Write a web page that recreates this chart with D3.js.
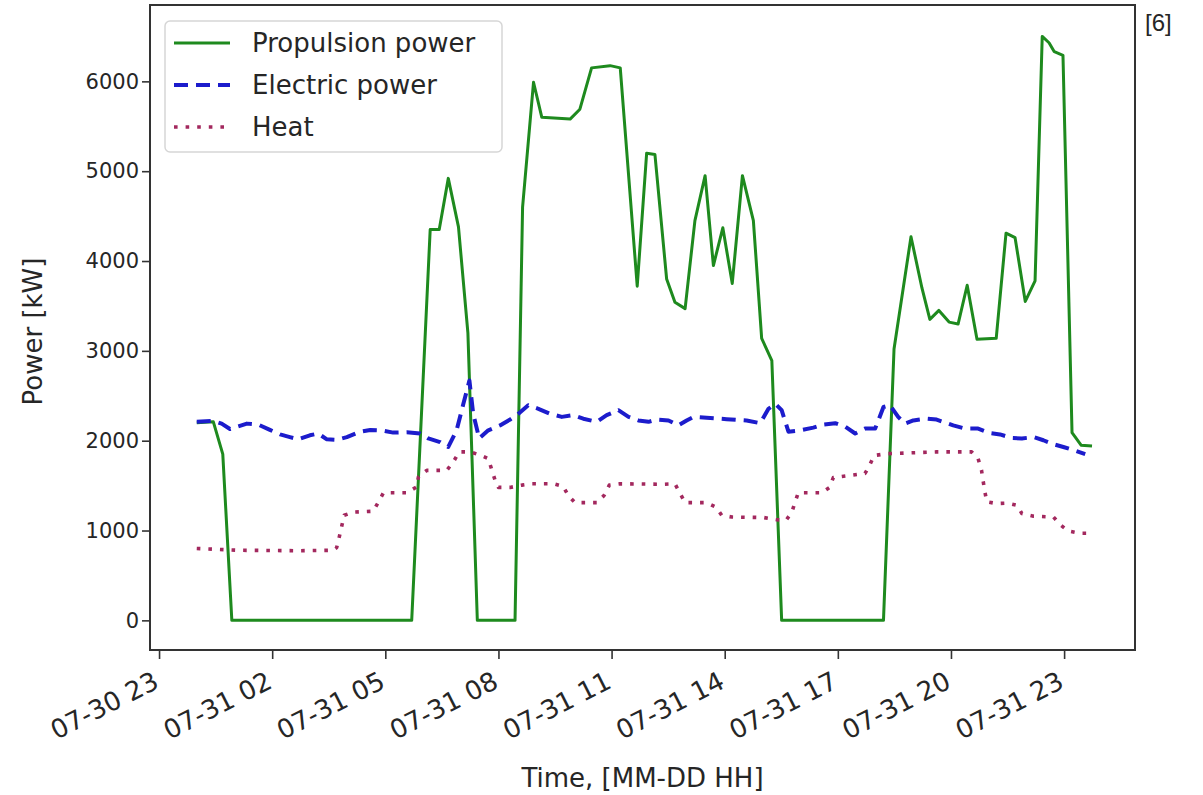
<!DOCTYPE html>
<html>
<head>
<meta charset="utf-8">
<script src="https://cdn.jsdelivr.net/npm/d3@7"></script>
<style>
  html, body { margin: 0; padding: 0; background: #fff; }
  svg text { font-family: "DejaVu Sans", sans-serif; fill: #262626; }
</style>
</head>
<body>
<div id="chart"></div>
<script>
// Power demand over one day.
// Times are hours after 07-31 00:00, values in kW.

const propulsionHours = [0.00, 0.44, 0.69, 0.93, 5.70, 6.19, 6.43, 6.67, 6.94, 7.19, 7.44,
  8.44, 8.64, 8.93, 9.15, 9.90, 10.16, 10.47, 10.96, 11.23, 11.68, 11.93, 12.15, 12.46,
  12.68, 12.95, 13.21, 13.48, 13.70, 13.95, 14.20, 14.47, 14.76, 14.98, 15.25, 15.51,
  18.21, 18.49, 18.94, 19.23, 19.44, 19.68, 19.95, 20.19, 20.43, 20.69, 21.20, 21.46,
  21.70, 21.97, 22.23, 22.42, 22.60, 22.74, 22.97, 23.21, 23.45, 23.74];
const propulsionKW = [2200, 2210, 1850, 0, 0, 4350, 4350, 4920, 4380, 3200, 0,
  0, 4600, 5990, 5600, 5580, 5690, 6150, 6175, 6150, 3720, 5200, 5185, 3800,
  3540, 3470, 4450, 4950, 3950, 4370, 3750, 4950, 4450, 3140, 2890, 0,
  0, 3020, 4270, 3700, 3350, 3450, 3320, 3300, 3730, 3130, 3140, 4310,
  4260, 3550, 3780, 6500, 6430, 6330, 6290, 2090, 1950, 1940];

const electricHours = [0.00, 0.44, 0.66, 0.88, 1.33, 1.63, 1.94, 2.21, 2.47, 2.69, 3.00,
  3.22, 3.45, 3.71, 3.98, 4.33, 4.60, 4.91, 5.21, 5.57, 5.92, 6.14, 6.45, 6.67, 6.89,
  7.07, 7.23, 7.33, 7.49, 7.73, 8.04, 8.31, 8.53, 8.79, 9.06, 9.37, 9.68, 9.99, 10.25,
  10.61, 10.87, 11.18, 11.45, 11.71, 11.98, 12.20, 12.51, 12.77, 12.99, 13.17, 13.52,
  14.05, 14.58, 14.94, 15.16, 15.34, 15.51, 15.69, 16.00, 16.35, 16.62, 16.93, 17.20,
  17.46, 17.72, 17.99, 18.21, 18.38, 18.60, 18.78, 19.00, 19.35, 19.62, 20.06, 20.37,
  20.72, 21.03, 21.30, 21.61, 21.88, 22.19, 22.45, 22.72, 22.98, 23.25, 23.56];
const electricKW = [2210, 2220, 2190, 2130, 2190, 2180, 2120, 2070, 2040, 2015, 2060,
  2080, 2015, 2010, 2040, 2100, 2120, 2115, 2090, 2095, 2080, 2025, 1985, 1930, 2115,
  2410, 2670, 2300, 2025, 2115, 2170, 2235, 2300, 2395, 2355, 2300, 2265, 2285, 2245,
  2210, 2285, 2340, 2265, 2225, 2210, 2235, 2225, 2170, 2225, 2265, 2255,
  2240, 2225, 2195, 2355, 2410, 2340, 2100, 2115, 2145, 2180, 2195, 2155,
  2080, 2135, 2135, 2375, 2395, 2265, 2190, 2225, 2245, 2235, 2170, 2135,
  2135, 2085, 2070, 2030, 2025, 2040, 2005, 1960, 1930, 1895, 1850];

const heatHours = [0.00, 1.15, 2.74, 3.61, 3.71, 3.78, 3.85, 3.91, 4.15, 4.68, 4.84, 4.95,
  5.57, 5.83, 5.88, 6.10, 6.63, 6.82, 6.96, 7.25, 7.51, 7.73, 7.82, 7.91, 8.00, 8.31,
  8.62, 8.88, 9.46, 9.72, 9.85, 10.03, 10.61, 10.80, 10.94, 11.22, 12.37, 12.68, 12.82,
  12.95, 13.52, 13.77, 13.92, 14.19, 15.03, 15.38, 15.63, 15.78, 15.87, 15.95, 16.57,
  16.78, 16.88, 17.72, 17.84, 17.96, 18.30, 19.62, 20.55, 20.72, 20.81, 20.85, 20.90,
  20.95, 21.21, 21.50, 21.75, 21.88, 22.19, 22.72, 22.91, 23.11, 23.42, 23.69];
const heatKW = [800, 780, 775, 780, 810, 930, 1060, 1170, 1205, 1215, 1335, 1420,
  1420, 1485, 1600, 1670, 1670, 1775, 1875, 1875, 1840, 1800, 1680, 1560, 1480, 1480,
  1505, 1520, 1520, 1490, 1390, 1310, 1310, 1390, 1505, 1520, 1515, 1520, 1410,
  1310, 1310, 1260, 1170, 1150, 1145, 1120, 1115, 1205, 1320, 1420, 1420,
  1480, 1590, 1635, 1725, 1835, 1855, 1875, 1875, 1800, 1670, 1560, 1430,
  1320, 1300, 1305, 1280, 1190, 1160, 1150, 1060, 995, 970, 970];

const yTicks = [0, 1000, 2000, 3000, 4000, 5000, 6000];
const xTickHours = [-1, 2, 5, 8, 11, 14, 17, 20, 23];
const xTickLabels = ["07-30 23", "07-31 02", "07-31 05", "07-31 08", "07-31 11",
  "07-31 14", "07-31 17", "07-31 20", "07-31 23"];

const seriesNames = ["Propulsion power", "Electric power", "Heat"];

// hours -> Date on 07-31
const base = new Date(2020, 6, 31, 0, 0, 0);
const toDate = h => new Date(base.getTime() + h * 3600 * 1000);

const W = 1203, H = 795;
const plot = { left: 150, top: 5, right: 1135, bottom: 650 };

const svg = d3.select("#chart").append("svg")
  .attr("width", W)
  .attr("height", H);

const x = d3.scaleTime()
  .domain([toDate(-1.24), toDate(24.88)])
  .range([plot.left, plot.right]);

const y = d3.scaleLinear()
  .domain([-330, 6850])
  .range([plot.bottom, plot.top]);

// series definitions with styles
const series = [
  { name: seriesNames[0], hours: propulsionHours, values: propulsionKW,
    color: "#1e8a1e", width: 3, dash: null },
  { name: seriesNames[1], hours: electricHours, values: electricKW,
    color: "#1c1ccc", width: 4, dash: "14,8" },
  { name: seriesNames[2], hours: heatHours, values: heatKW,
    color: "#a3285e", width: 3.6, dash: "3.6,8" }
];

const line = d3.line()
  .x(d => x(d.t))
  .y(d => y(d.v));

const lines = svg.append("g");
series.forEach(s => {
  const pts = s.hours.map((h, i) => ({ t: toDate(h), v: s.values[i] }));
  lines.append("path")
    .datum(pts)
    .attr("fill", "none")
    .attr("stroke", s.color)
    .attr("stroke-width", s.width)
    .attr("stroke-linejoin", "round")
    .attr("stroke-dasharray", s.dash)
    .attr("d", line);
});

// frame
svg.append("rect")
  .attr("x", plot.left)
  .attr("y", plot.top)
  .attr("width", plot.right - plot.left)
  .attr("height", plot.bottom - plot.top)
  .attr("fill", "none")
  .attr("stroke", "#333")
  .attr("stroke-width", 2);

// y axis
const yAxis = svg.append("g")
  .attr("transform", `translate(${plot.left},0)`)
  .call(d3.axisLeft(y).tickValues(yTicks).tickSize(8).tickPadding(3)
    .tickFormat(d3.format("d")));
yAxis.select(".domain").remove();
yAxis.selectAll(".tick line").attr("stroke", "#333").attr("stroke-width", 1.6);
yAxis.selectAll(".tick text")
  .style("font-family", "DejaVu Sans")
  .style("font-size", "21px")
  .attr("fill", "#262626");

// x axis, labels slanted like autofmt_xdate
const xAxis = svg.append("g")
  .attr("transform", `translate(0,${plot.bottom})`)
  .call(d3.axisBottom(x)
    .tickValues(xTickHours.map(toDate))
    .tickSize(9)
    .tickFormat((d, i) => xTickLabels[i]));
xAxis.select(".domain").remove();
xAxis.selectAll(".tick line").attr("stroke", "#333").attr("stroke-width", 1.6);
xAxis.selectAll(".tick text")
  .style("font-family", "DejaVu Sans")
  .style("font-size", "26px")
  .attr("fill", "#262626")
  .attr("text-anchor", "end")
  .attr("y", 0)
  .attr("dy", 0)
  .attr("transform", "translate(1,37) rotate(-27)");

// axis labels
svg.append("text")
  .attr("x", (plot.left + plot.right) / 2)
  .attr("y", 787)
  .attr("text-anchor", "middle")
  .style("font-size", "26px")
  .text("Time, [MM-DD HH]");

svg.append("text")
  .attr("transform", `translate(42,${(plot.top + plot.bottom) / 2 + 4}) rotate(-90)`)
  .attr("text-anchor", "middle")
  .style("font-size", "26px")
  .text("Power [kW]");

// legend
const legend = svg.append("g");
legend.append("rect")
  .attr("x", 165).attr("y", 21)
  .attr("width", 337).attr("height", 131)
  .attr("rx", 5)
  .attr("fill", "#fff")
  .attr("fill-opacity", 0.85)
  .attr("stroke", "#d6d6d6")
  .attr("stroke-width", 1.5);

series.forEach((s, i) => {
  const ly = 43 + i * 42;
  legend.append("line")
    .attr("x1", 174).attr("x2", 230)
    .attr("y1", ly).attr("y2", ly)
    .attr("stroke", s.color)
    .attr("stroke-width", s.width)
    .attr("stroke-dasharray", s.dash);
  legend.append("text")
    .attr("x", 252)
    .attr("y", ly)
    .attr("dy", "0.36em")
    .style("font-size", "26px")
    .text(s.name);
});

// reference marker in the corner
svg.append("text")
  .attr("x", 1145)
  .attr("y", 31)
  .style("font-family", "Liberation Sans, Arial, sans-serif")
  .style("font-size", "24px")
  .attr("fill", "#111")
  .text("[6]");
</script>
</body>
</html>
